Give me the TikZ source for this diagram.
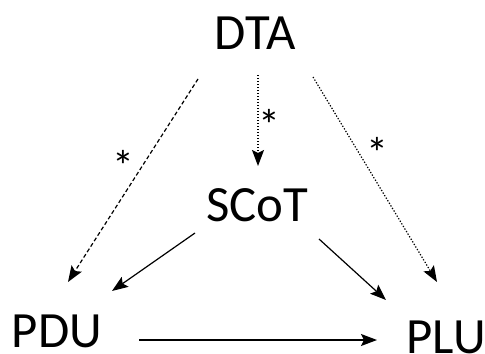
\documentclass[tikz,border=0pt]{standalone}
\usepackage{fontspec}
\setmainfont{Carlito}
\usetikzlibrary{arrows.meta}

\begin{document}
\begin{tikzpicture}[x=1bp,y=1bp,>={Stealth[length=16bp,width=12bp,inset=3bp]},line width=1.2bp,
  box/.style={inner sep=0pt,font=\fontsize{51}{54}\selectfont},
  star/.style={inner sep=0pt,font=\fontsize{44}{46}\selectfont},
  dash1/.style={dash pattern=on 4bp off 2.5bp},
  dot1/.style={dash pattern=on 1.3bp off 1.7bp}]

\useasboundingbox (0,0) rectangle (485,353);

\node[box] (dta) at (255,320) {DTA};
\node[box] (scot) at (257,148) {SCoT};
\node[box] (pdu) at (57,22) {PDU};
\node[box, anchor=west] (plu) at (406,16) {PLU};


\draw[->, dash1] ([shift={(-57,-46)}]dta.center) -- node[star, pos=0.39, xshift=-24bp, yshift=-8bp] {*} ([shift={(11,49)}]pdu.center);
\draw[->, dot1] ([shift={(3,-42)}]dta.center) -- node[star, pos=0.46, xshift=11bp, yshift=-8bp] {*} ([shift={(1,39)}]scot.center);
\draw[->, dot1] ([shift={(58,-44)}]dta.center) -- node[star, pos=0.33, xshift=23bp, yshift=-8bp] {*} ([shift={(31,55)}]plu.west);


\draw[->] ([shift={(-62,-28)}]scot.center) -- ([shift={(55,40)}]pdu.center);
\draw[->] ([shift={(62,-34)}]scot.center) -- ([shift={(-20,37)}]plu.west);


\draw[->] ([shift={(82,-9)}]pdu.center) -- ([shift={(-29,-3)}]plu.west);

\end{tikzpicture}
\end{document}
